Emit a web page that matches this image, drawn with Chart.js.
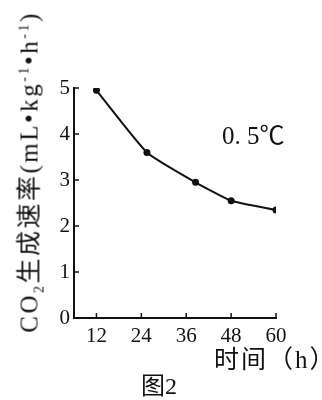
<!DOCTYPE html>
<html>
<head>
<meta charset="utf-8">
<script src="https://cdn.jsdelivr.net/npm/chart.js@4"></script>
<style>
  html, body { margin: 0; padding: 0; background: #fff; }
  #wrap { position: relative; width: 322px; height: 400px; }
  .txt { position: absolute; font-family: "Liberation Serif", "Noto Sans CJK SC", serif; color: #111; white-space: nowrap; }
  #ytitle { left: 28px; top: 172px; font-size: 25px; letter-spacing: 2.5px; transform: translate(-50%, -50%) rotate(-90deg); }
  #ytitle sub, #ytitle sup { font-size: 14px; }
  #xtitle { left: 214px; top: 339px; font-size: 25px; letter-spacing: 2px; }
  #caption { left: 141px; top: 366px; font-size: 24px; }
  #temp { left: 222px; top: 115px; font-size: 25px; }
</style>
</head>
<body>
<div id="wrap">
  <canvas id="chart" width="322" height="400"></canvas>
  <div class="txt" id="ytitle">CO<sub>2</sub>生成速率(mL•kg<sup>-1</sup>•h<sup>-1</sup>)</div>
  <div class="txt" id="xtitle">时间（h）</div>
  <div class="txt" id="caption">图2</div>
  <div class="txt" id="temp">0. 5℃</div>
</div>
<script>
// values
var hours = [12, 25.5, 38.5, 48, 60];
var co2Rate = [4.95, 3.6, 2.95, 2.55, 2.35];
var xTicks = [12, 24, 36, 48, 60];
var yTicks = [0, 1, 2, 3, 4, 5];

// short tick marks pointing into the plot, like the printed figure
var innerTicks = {
  id: "innerTicks",
  afterDraw: function(chart) {
    var ctx = chart.ctx;
    var xs = chart.scales.x, ys = chart.scales.y;
    ctx.save();
    ctx.strokeStyle = "#111";
    ctx.lineWidth = 1.5;
    ctx.beginPath();
    xTicks.forEach(function(v) {
      var px = xs.getPixelForValue(v);
      ctx.moveTo(px, ys.bottom);
      ctx.lineTo(px, ys.bottom - 5);
    });
    yTicks.forEach(function(v) {
      var py = ys.getPixelForValue(v);
      ctx.moveTo(xs.left, py);
      ctx.lineTo(xs.left + 5, py);
    });
    ctx.stroke();
    ctx.restore();
  }
};

var tickFont = { family: "Liberation Serif", size: 21 };

new Chart(document.getElementById("chart"), {
  type: "line",
  data: {
    datasets: [{
      data: hours.map(function(h, i) { return { x: h, y: co2Rate[i] }; }),
      borderColor: "#111",
      backgroundColor: "#111",
      borderWidth: 2,
      pointRadius: 2.5,
      tension: 0.15
    }]
  },
  options: {
    responsive: false,
    animation: false,
    layout: { padding: { left: 0, top: 88, right: 46, bottom: 0 } },
    plugins: { legend: { display: false }, tooltip: { enabled: false } },
    scales: {
      x: {
        type: "linear",
        min: 6,
        max: 60,
        afterBuildTicks: function(s) { s.ticks = xTicks.map(function(v) { return { value: v }; }); },
        afterFit: function(s) { s.height = 82; },
        grid: { display: true, drawOnChartArea: false, drawTicks: false },
        border: { display: true, color: "#111", width: 2 },
        ticks: { color: "#111", font: tickFont, padding: 6, maxRotation: 0 }
      },
      y: {
        min: 0,
        max: 5,
        afterBuildTicks: function(s) { s.ticks = yTicks.map(function(v) { return { value: v }; }); },
        afterFit: function(s) { s.width = 74; },
        grid: { display: true, drawOnChartArea: false, drawTicks: false },
        border: { display: true, color: "#111", width: 2 },
        ticks: { color: "#111", font: tickFont, padding: 4 }
      }
    }
  },
  plugins: [innerTicks]
});
</script>
</body>
</html>
